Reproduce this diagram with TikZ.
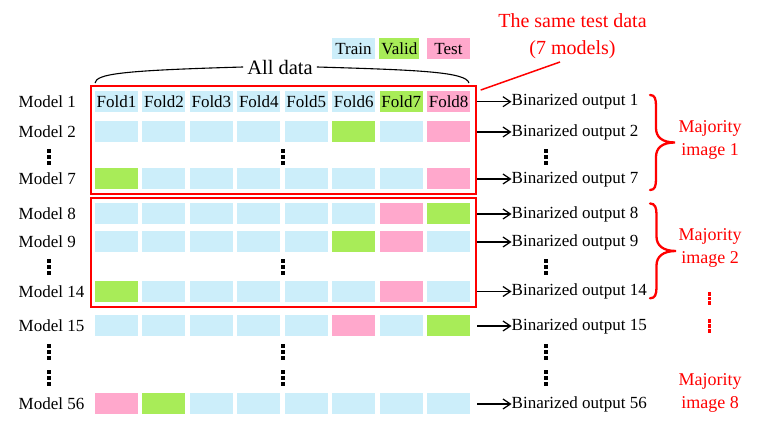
\documentclass[tikz,border=0pt]{standalone}
\usepackage{fontspec}
\setmainfont{Liberation Serif}
\usetikzlibrary{arrows.meta}
\definecolor{cT}{HTML}{CCEEFA}
\definecolor{cV}{HTML}{A8EC58}
\definecolor{cX}{HTML}{FFA8CC}
\definecolor{rd}{HTML}{FF0000}
\newcommand{\fsn}{\fontsize{17}{20}\selectfont}
\newcommand{\fsa}{\fontsize{20.5}{24}\selectfont}
\newcommand{\fsr}{\fontsize{20}{26.7}\selectfont}
\newcommand{\fsm}{\fontsize{18}{23}\selectfont}
\tikzset{
  cell/.style={minimum width=43, minimum height=21, inner sep=0pt, font=\fsn},
  lbl/.style={anchor=west, inner sep=0pt, font=\fsn},
  redbox/.style={draw=rd, line width=2, inner sep=0pt, minimum width=385},
  outarrow/.style={line width=1.2, -{Straight Barb[length=7.5,width=10]}},
  vdots/.pic={\foreach \k in {-6,0,6}{\fill (-2,\k-2) rectangle (2,\k+2);}},
  rdots/.pic={\foreach \k in {-4.7,0,4.7}{\fill[rd] (-1.9,\k-1.9) rectangle (1.9,\k+1.9);}},
  redbrace/.style={draw=rd, line width=2.3, line cap=round},
  majtext/.style={text=rd, font=\fsm, align=center, inner sep=0pt},
}
\begin{document}
\begin{tikzpicture}[x=1pt,y=-1pt]
\useasboundingbox (0,0) rectangle (758,427);
% legend
\node[cell, fill=cT] (legT) at (353.5,49) {Train};
\node[cell, fill=cV, minimum width=40] (legV) at (399.3,49) {Valid};
\node[cell, fill=cX] (legX) at (448.5,49) {Test};
% All data brace
\node[font=\fsa, inner sep=4pt] (alld) at (280,67) {All data};
\draw[line width=1.1] (95,83) .. controls (96.5,74) and (120,70.5) .. (alld.west);
\draw[line width=1.1] (alld.east) .. controls (420,70) and (466,72) .. (469,83);
% row 1
\foreach \c [count=\i] in {T,T,T,T,T,T,V,X} {
  \node[cell, fill=c\c] (cell-1-\i) at ({116.5+47.45*(\i-1)},101.7) {Fold\i};
}
% other rows
\foreach \r/\y/\cols in {2/132/{T,T,T,T,T,V,T,X}, 7/179/{V,T,T,T,T,T,T,X},
   8/214/{T,T,T,T,T,T,X,V}, 9/242/{T,T,T,T,T,V,X,T}, 14/291.5/{V,T,T,T,T,T,X,T},
   15/326/{T,T,T,T,T,X,T,V}, 56/404/{X,V,T,T,T,T,T,T}} {
  \foreach \c [count=\i] in \cols {
    \node[cell, fill=c\c] (cell-\r-\i) at ({116.5+47.45*(\i-1)},\y) {};
  }
}
% labels and outputs
\foreach \r/\y in {1/101.7, 2/132, 7/179, 8/214, 9/242, 14/291.5, 15/326, 56/404} {
  \node[lbl] (m\r) at (18.5,\y) {Model \r};
  \node[lbl] (o\r) at (511.5,\y) {Binarized output \r};
  \draw[outarrow] ([xshift=7]cell-\r-8.east) -- (o\r.west);
}
% red boxes
\node[redbox, minimum height=108.3] (box1) at (283.2,140.2) {};
\node[redbox, minimum height=109] (box2) at (283.2,252.8) {};
% same test data
\node[text=rd, font=\fsr, align=center, inner sep=0pt] (same) at (572.5,36) {The same test data\\(7 models)};
\coordinate (sameend) at (560,62);
\draw[rd, line width=1.5] ([shift={(4,5)}]box1.north east) -- (sameend);
% vertical dots
\foreach \x in {49,283.3,545.5} {
  \pic at (\x,157) {vdots};
  \pic at (\x,267) {vdots};
  \pic at (\x,352) {vdots};
  \pic at (\x,378.5) {vdots};
}
% red braces and majority labels
\draw[redbrace] (650,95) .. controls (655,95) and (656,99) .. (656,106) -- (656,128)
   .. controls (656,137) and (662,142.5) .. (675,142.5)
   .. controls (662,142.5) and (656,148) .. (656,157) -- (656,179)
   .. controls (656,186) and (655,190) .. (650,190);
\draw[redbrace] (650,203.5) .. controls (655,203.5) and (656.5,207.5) .. (656.5,214.5) -- (656.5,236.5)
   .. controls (656.5,245.5) and (663,251) .. (676,251)
   .. controls (663,251) and (656.5,256.5) .. (656.5,265.5) -- (656.5,287.5)
   .. controls (656.5,294.5) and (655,298.3) .. (650,298.3);
\node[majtext] (maj1) at (710,140) {Majority\\image 1};
\node[majtext] (maj2) at (710,248) {Majority\\image 2};
\node[majtext] (maj8) at (710,392.5) {Majority\\image 8};
\pic at (709.5,298.5) {rdots};
\pic at (709.5,326) {rdots};
\end{tikzpicture}
\end{document}
